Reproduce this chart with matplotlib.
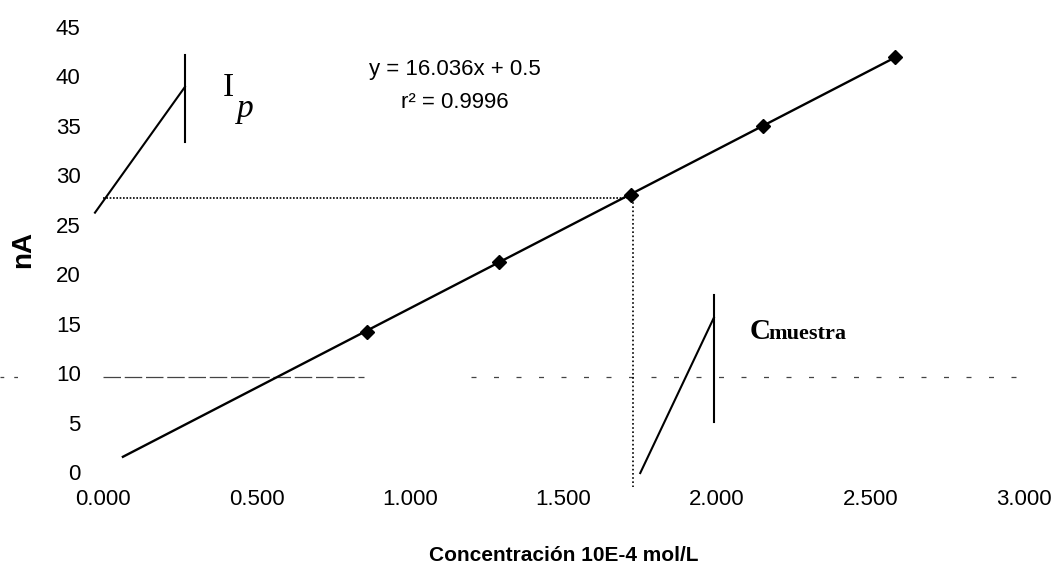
import numpy as np
import matplotlib.pyplot as plt

# Calibration points (concentration 10E-4 mol/L vs peak current nA)
conc = [0.86, 1.29, 1.72, 2.15, 2.58]
current = [14.1, 21.2, 28.0, 35.0, 41.9]

# Linear fit reported on the chart
slope = 16.036
intercept = 0.5
r2 = 0.9996
fit_range = [0.065, 2.58]

# Sample reading: measured current and interpolated concentration
sample_current = 27.7
sample_conc = 1.725

# Pointer sketches next to the labels
ip_pointer_x = [-0.026, 0.267]
ip_pointer_y = [26.2, 38.9]
ip_bar_x = 0.267
ip_bar_y = [33.3, 42.1]
c_pointer_x = [1.75, 1.99]
c_pointer_y = [-0.1, 15.6]
c_bar_x = 1.99
c_bar_y = [5.1, 17.9]

xticks = [0.0, 0.5, 1.0, 1.5, 2.0, 2.5, 3.0]
yticks = [0, 5, 10, 15, 20, 25, 30, 35, 40, 45]

sans = ['Liberation Sans', 'DejaVu Sans']
serif = ['Liberation Serif', 'DejaVu Serif']

fig = plt.figure(figsize=(10.56, 5.64), dpi=100)
ax = fig.add_axes([0.0975, 0.163, 0.8722, 0.790])

# faint broken line across at ~10 nA (gap behind the tick label)
ax.plot([-0.335, -0.25], [9.6, 9.6], color='#444444', lw=0.9,
        linestyle=(0, (3, 8)), clip_on=False, zorder=1)
ax.plot([0.0, 0.85], [9.6, 9.6], color='#444444', lw=0.9,
        linestyle=(0, (14, 3)), zorder=1)
ax.plot([1.2, 3.02], [9.6, 9.6], color='#444444', lw=0.9,
        linestyle=(0, (4, 14)), clip_on=False, zorder=1)

# trendline from the fitted equation
xf = np.array(fit_range)
ax.plot(xf, slope * xf + intercept, color='black', lw=1.7, zorder=3)
ax.plot(conc, current, linestyle='none', marker='D', color='black',
        markersize=7, zorder=4)

# dotted read-off lines for the sample
ax.plot([0, sample_conc], [sample_current, sample_current], color='black',
        lw=1.2, linestyle=(0, (1, 1)), zorder=2)
ax.plot([sample_conc, sample_conc], [sample_current, -1.5], color='black',
        lw=1.2, linestyle=(0, (1, 1.5)), clip_on=False, zorder=2)

# pointers
ax.plot(ip_pointer_x, ip_pointer_y, color='black', lw=1.5, clip_on=False)
ax.plot([ip_bar_x, ip_bar_x], ip_bar_y, color='black', lw=1.5, clip_on=False)
ax.plot(c_pointer_x, c_pointer_y, color='black', lw=1.5, clip_on=False)
ax.plot([c_bar_x, c_bar_x], c_bar_y, color='black', lw=1.5, clip_on=False)

ax.text(0.39, 38.0, 'I', fontsize=24, family=serif, va='baseline')
ax.text(0.435, 35.9, 'p', fontsize=24, family=serif, style='italic',
        va='baseline')
ax.text(2.105, 13.4, 'C', fontsize=21, family=serif, weight='bold',
        va='baseline')
ax.text(2.168, 13.4, 'muestra', fontsize=16, family=serif, weight='bold',
        va='baseline')

ax.text(1.147, 40.7, f'y = {slope}x + {intercept}', fontsize=16,
        family=sans, ha='center', va='center')
ax.text(1.147, 37.3, f'r² = {r2}', fontsize=16, family=sans,
        ha='center', va='center')

ax.set_xlim(0, 3)
ax.set_ylim(0, 45)
ax.set_xticks(xticks)
ax.set_xticklabels([f'{v:.3f}' for v in xticks], family=sans, fontsize=16)
ax.set_yticks(yticks)
ax.set_yticklabels([str(v) for v in yticks], family=sans, fontsize=16)
ax.tick_params(length=0)
ax.tick_params(axis='y', pad=16)
ax.tick_params(axis='x', pad=12)
for s in ax.spines.values():
    s.set_visible(False)

ax.set_xlabel('Concentración 10E-4 mol/L', family=sans, fontsize=15,
              weight='bold', labelpad=26)
ax.set_ylabel('nA', family=sans, fontsize=20, weight='bold', labelpad=14)

fig.savefig('out.png', dpi=100)
